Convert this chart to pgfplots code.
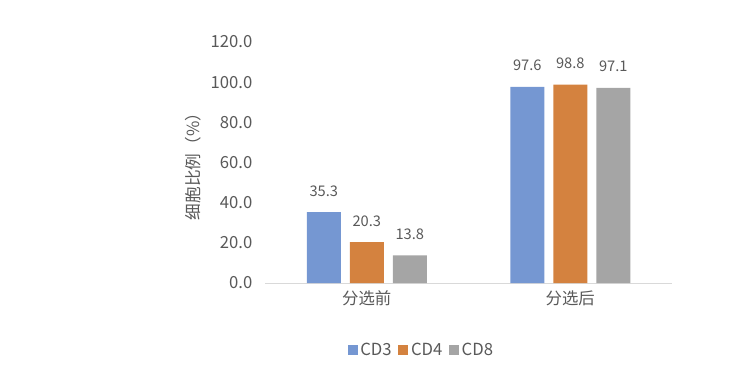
\documentclass[border=0pt]{standalone}
\usepackage{pgfplots}
\pgfplotsset{compat=1.18}
\usepackage{fontspec}
\setmainfont{Noto Sans CJK SC}
\definecolor{cdthree}{HTML}{7597D2}
\definecolor{cdfour}{HTML}{D4823F}
\definecolor{cdeight}{HTML}{A5A5A5}
\definecolor{txt}{HTML}{595959}
\definecolor{axl}{HTML}{D9D9D9}
\begin{document}
\begin{tikzpicture}
\path[use as bounding box] (0pt,0pt) rectangle (547.5pt,276.75pt);
\begin{axis}[
  at={(198.75pt,64.5pt)}, anchor=south west,
  scale only axis,
  width=305.25pt, height=180.75pt,
  ymin=0, ymax=120,
  xmin=-0.5, xmax=1.5,
  ytick={0,20,...,120},
  xtick={0,1},
  xticklabels={分选前,分选后},
  /pgf/number format/assume math mode=true,
  /pgf/number format/.cd, fixed, fixed zerofill, precision=1, /pgfplots/.cd,
  yticklabel style={font=\fontsize{12.5}{14}\selectfont, text=txt, xshift=-6pt},
  xticklabel style={font=\fontsize{12.3}{14}\selectfont, text=txt, yshift=-2pt},
  major tick length=0pt,
  axis x line*=bottom,
  axis y line*=left,
  x axis line style={draw=axl, line width=0.75pt, -},
  y axis line style={draw=none},
  ylabel={细胞比例（\%）},
  ylabel style={font=\fontsize{12.5}{14}\selectfont, text=txt, yshift=0pt},
  ybar=6.75pt,
  bar width=25.5pt,
  nodes near coords,
  nodes near coords style={font=\fontsize{11}{13}\selectfont, text=txt, anchor=center, yshift=16pt, /pgf/number format/.cd, fixed, fixed zerofill, precision=1},
  legend style={at={(0.385,-0.278)}, anchor=center, draw=none, legend columns=-1, font=\fontsize{12.5}{14}\selectfont, text=txt, /tikz/every even column/.append style={column sep=3pt}},
  legend image code/.code={\fill[#1] (0pt,-3.6pt) rectangle (7.5pt,3.9pt);},
  clip=false,
]
\addplot[fill=cdthree, draw=none] coordinates {(0,35.3) (1,97.6)};
\addplot[fill=cdfour, draw=none] coordinates {(0,20.3) (1,98.8)};
\addplot[fill=cdeight, draw=none] coordinates {(0,13.8) (1,97.1)};
\legend{CD3,CD4,CD8}
\end{axis}
\end{tikzpicture}
\end{document}
